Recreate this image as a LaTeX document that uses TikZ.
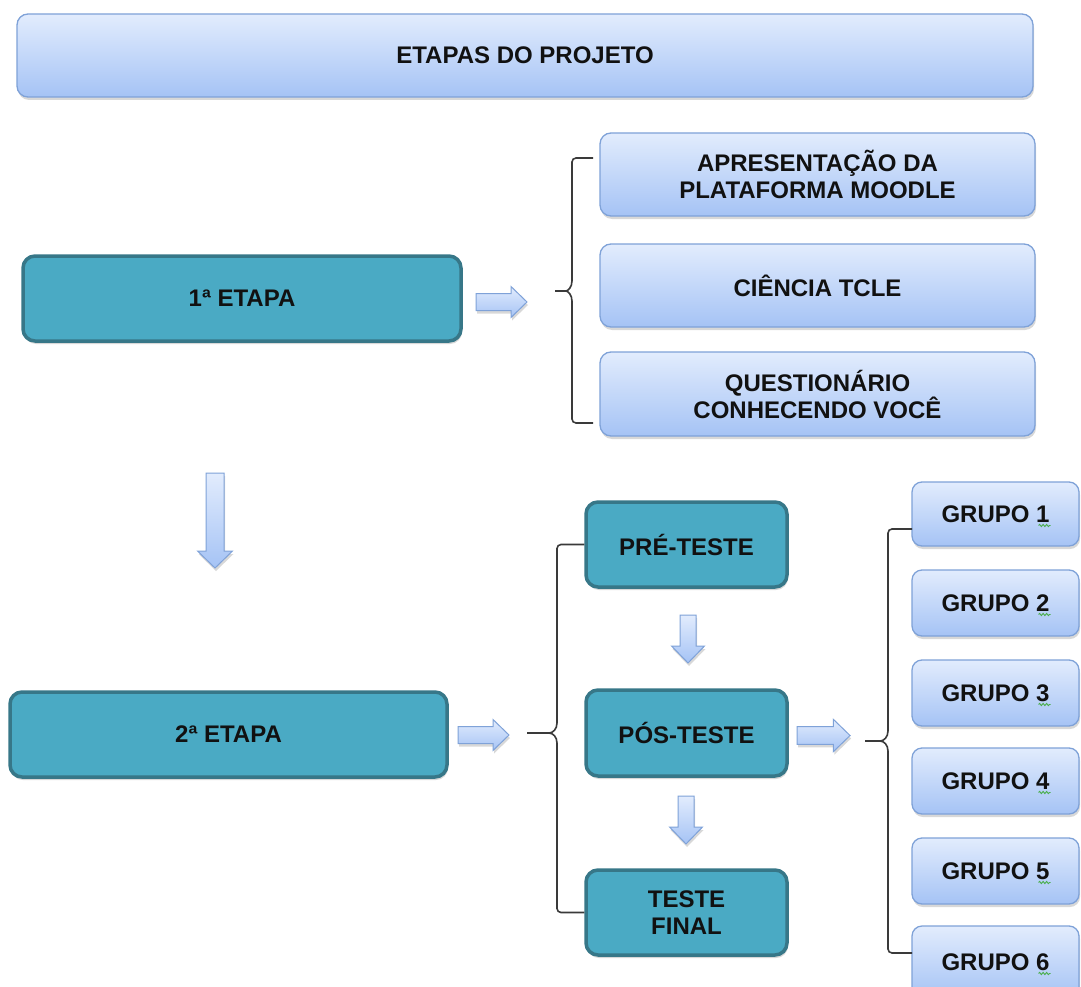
\documentclass[tikz,border=0pt]{standalone}
\usepackage{fontspec}
\setmainfont{Liberation Sans}
\usetikzlibrary{shadows,calc,decorations.pathmorphing}

\definecolor{lighttop}{HTML}{E2ECFD}
\definecolor{lightbot}{HTML}{A5C3F5}
\definecolor{lightedge}{HTML}{7FA2D8}
\definecolor{tealfill}{HTML}{4AAAC4}
\definecolor{tealedge}{HTML}{377788}
\definecolor{bracecol}{HTML}{3A3A3A}
\definecolor{squigcol}{HTML}{4CAF50}
\definecolor{ink}{HTML}{111111}

\newcommand\boxfont{\bfseries\fontsize{24}{27}\selectfont}

\begin{document}
\begin{tikzpicture}[x=1pt,y=-1pt,
  softshadow/.style={drop shadow={shadow xshift=1pt, shadow yshift=-3pt, opacity=0.3}},
  lightbox/.style={draw=lightedge, line width=1.3pt, rounded corners=11pt,
    top color=lighttop, bottom color=lightbot, softshadow,
    text=ink, font=\boxfont, align=center, inner sep=0pt},
  tealbox/.style={draw=tealedge, line width=3.5pt, rounded corners=12pt,
    fill=tealfill, softshadow,
    text=ink, font=\boxfont, align=center, inner sep=0pt},
  blockarrow/.style={draw=lightedge, line width=1pt, top color=lighttop,
    bottom color=lightbot, softshadow},
  bracket/.style={draw=bracecol, line width=1.6pt, rounded corners=4pt},
  squiggle/.style={draw=squigcol, line width=0.9pt, decorate,
    decoration={snake, segment length=3.5pt, amplitude=1.1pt}},
  rarrow/.pic={\path[blockarrow] (0,-8.5) -- (35,-8.5) -- (35,-15.5) -- (51,0)
      -- (35,15.5) -- (35,8.5) -- (0,8.5) -- cycle;},
  bigdown/.pic={\path[blockarrow] (-9,0) -- (9,0) -- (9,78) -- (17.5,78) -- (0,95)
      -- (-17.5,78) -- (-9,78) -- cycle;},
  smalldown/.pic={\path[blockarrow] (-8,0) -- (8,0) -- (8,31) -- (16.5,31) -- (0,48)
      -- (-16.5,31) -- (-8,31) -- cycle;}
]
\useasboundingbox (0,0) rectangle (1081,987);
\clip (0,0) rectangle (1081,987);
\fill[white] (0,0) rectangle (1081,987);

% title bar
\node[lightbox, minimum width=1016, minimum height=83] (title) at (525,55.5) {ETAPAS DO PROJETO};

% first stage
\node[tealbox, minimum width=438, minimum height=85] (etapa1) at (242,298.5) {1ª ETAPA};
\node[lightbox, minimum width=435, minimum height=83] (apres) at (817.5,174.5) {APRESENTAÇÃO DA\\PLATAFORMA MOODLE};
\node[lightbox, minimum width=435, minimum height=83] (tcle) at (817.5,285.5) {CIÊNCIA TCLE};
\node[lightbox, minimum width=435, minimum height=84] (quest) at (817.5,394) {QUESTIONÁRIO\\CONHECENDO VOCÊ};

% second stage
\node[tealbox, minimum width=437, minimum height=85] (etapa2) at (228.5,734.5) {2ª ETAPA};
\node[tealbox, minimum width=201, minimum height=85] (pre) at (686.5,544.5) {PRÉ-TESTE};
\node[tealbox, minimum width=201, minimum height=86] (pos) at (686.5,733) {PÓS-TESTE};
\node[tealbox, minimum width=201, minimum height=85] (final) at (686.5,912.5) {TESTE\\FINAL};

% groups
\foreach \i/\cy/\h in {1/514/64, 2/603/66, 3/693/66, 4/781/66, 5/871/66, 6/962/72}{
  \node[lightbox, rounded corners=10pt, minimum width=167, minimum height=\h] (g\i) at (995.5,\cy) {GRUPO \i};
  \draw[squiggle] ($(g\i.center)+(43,11.5)$) -- ++(12,0);
}

% block arrows
\pic at (476,302) {rarrow};
\pic at (215,473) {bigdown};
\pic at (458,735) {rarrow};
\pic at (688,615) {smalldown};
\pic at (686,796) {smalldown};
\pic[scale=1.04] at (797,735.5) {rarrow};

% brackets
\coordinate (b1t) at (593,158);
\coordinate (b1m) at (555,291);
\coordinate (b1b) at (593,423);
\draw[bracket] (b1t) -- (572,158) -- (572,277)
  .. controls (572,287) and (568,291) .. (562,291) -- (b1m);
\draw[bracket] (b1m) -- (562,291)
  .. controls (568,291) and (572,295) .. (572,305) -- (572,423) -- (b1b);

\coordinate (b2m) at (527,733);
\draw[bracket] (pre.west) -- (557,544.5) -- (557,719)
  .. controls (557,729) and (553,733) .. (545,733) -- (b2m);
\draw[bracket] (b2m) -- (545,733)
  .. controls (553,733) and (557,737) .. (557,747) -- (557,912.5) -- (final.west);

\coordinate (b3t) at (912,529);
\coordinate (b3m) at (865,741);
\coordinate (b3b) at (912,953);
\draw[bracket] (b3t) -- (888,529) -- (888,727)
  .. controls (888,737) and (884,741) .. (876,741) -- (b3m);
\draw[bracket] (b3m) -- (876,741)
  .. controls (884,741) and (888,745) .. (888,755) -- (888,953) -- (b3b);
\end{tikzpicture}
\end{document}
